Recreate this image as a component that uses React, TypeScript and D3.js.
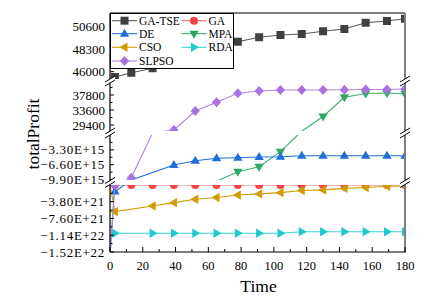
import React from "react";
import * as d3 from "d3";

// time steps where points were recorded
const time = [0, 3, 13, 26, 39, 52, 65, 78, 91, 104, 117, 130, 143, 156, 169, 180];

// totalProfit per algorithm (null = no point recorded)
const gaTse = [null, 45450, 45895, 46345, 47000, 47650, 48300, 49065, 49515, 49750, 49852, 50128, 50364, 51008, 51182, 51417];
const ga = [null, -2e19, -2e19, -2e19, -2e19, -2e19, -2e19, -2e19, -2e19, -2e19, -2e19, -2e19, -2e19, -2e19, -2e19, -2e19];
const de = [-1.0e16, -1.52e21, -1.0e16, null, -6.67e15, -5.71e15, -5.18e15, -5.04e15, -4.89e15, -4.82e15, -4.6e15, -4.6e15, -4.6e15, -4.6e15, -4.6e15, -4.6e15];
const mpa = [-1.6e22, -5e18, -5e18, -5e18, -5e18, -5e18, -5e18, -8.16e15, -7.04e15, -3.71e15, 26000, 31780, 37156, 38220, 38360, 38080];
const cso = [-2e19, -6.06e21, null, -4.76e21, -4.02e21, -3.24e21, -2.84e21, -2.27e21, -2.04e21, -1.75e21, -1.25e21, -1.13e21, -7.9e20, -5.7e20, -2.9e20, -2.3e20];
const rda = [null, -1.096e22, null, -1.096e22, -1.096e22, -1.096e22, -1.096e22, -1.096e22, -1.096e22, -1.096e22, -1.06e22, -1.06e22, -1.06e22, -1.06e22, -1.06e22, -1.06e22];
const slpso = [-1.6e22, -2e19, -9.51e15, 15000, 28000, 33320, 35756, 38276, 38920, 39200, 39200, 39200, 39284, 39340, 39340, 39480];

// broken y axis: four segments, top to bottom
const segDomains = [[45250, 52000], [27720, 41160], [-1.0e16, 0], [-1.52e22, -2e19]];
const segTicks = [
  [46000, 48300, 50600],
  [29400, 33600, 37800],
  [-9.9e15, -6.6e15, -3.3e15],
  [-1.52e22, -1.14e22, -7.6e21, -3.8e21],
];
const segTickLabels = [
  ["46000", "48300", "50600"],
  ["29400", "33600", "37800"],
  ["\u22129.90E+15", "\u22126.60E+15", "\u22123.30E+15"],
  ["\u22121.52E+22", "\u22121.14E+22", "\u22127.60E+21", "\u22123.80E+21"],
];
const xTicks = [0, 20, 40, 60, 80, 100, 120, 140, 160, 180];

const series = [
  { name: "GA-TSE", values: gaTse, color: "#404040", line: "#5a5a5a", shape: "square" },
  { name: "GA", values: ga, color: "#f24444", line: "#f26a6a", shape: "circle" },
  { name: "DE", values: de, color: "#1e6fdc", line: "#1e6fdc", shape: "up" },
  { name: "MPA", values: mpa, color: "#2fa866", line: "#3cb070", shape: "down" },
  { name: "CSO", values: cso, color: "#d09b00", line: "#d09b00", shape: "left" },
  { name: "RDA", values: rda, color: "#1ecbcb", line: "#3fd2d2", shape: "right" },
  { name: "SLPSO", values: slpso, color: "#a873e0", line: "#b083e4", shape: "diamond" },
];
// MPA under GA so the red line stays on top
const drawOrder = ["MPA", "GA-TSE", "GA", "DE", "CSO", "RDA", "SLPSO"];

const W = 437;
const H = 303;
const left = 110;
const right = 405;
const top = 13;
const bottom = 252;
const segPx = [[79, 13], [131, 83], [180, 135], [252, 185]];

const markerPath = (shape: string) => {
  switch (shape) {
    case "square": return "M-4,-4h8v8h-8Z";
    case "circle": return "M4,0A4,4 0 1,1 -4,0A4,4 0 1,1 4,0Z";
    case "up": return "M0,-5L4.7,3L-4.7,3Z";
    case "down": return "M0,5L4.7,-3L-4.7,-3Z";
    case "left": return "M-5,0L3,-4.7L3,4.7Z";
    case "right": return "M5,0L-3,-4.7L-3,4.7Z";
    default: return "M0,-5L4.6,0L0,5L-4.6,0Z";
  }
};

const App = () => {
  const x = d3.scaleLinear().domain([0, 180]).range([left, right]);
  const ys = segDomains.map((dom, i) => d3.scaleLinear().domain(dom).range(segPx[i]));
  const font = "'Liberation Serif', 'Times New Roman', serif";

  // piecewise mapping across the breaks
  const inPanel = (v: number) => segDomains.some((d) => v >= d[0] && v <= d[1]);
  const Y = (v: number) => {
    for (let i = 0; i < segDomains.length; i++) {
      const [lo, hi] = segDomains[i];
      if (v >= lo && v <= hi) return ys[i](v);
    }
    if (v > segDomains[0][1]) return Math.max(-50, ys[0](v));
    const last = segDomains.length - 1;
    if (v < segDomains[last][0]) return Math.min(H + 50, ys[last](v));
    for (let i = 0; i < last; i++) {
      const upLo = segDomains[i][0];
      const dnHi = segDomains[i + 1][1];
      if (v < upLo && v > dnHi) {
        const g = d3.scaleLinear().domain([upLo, dnHi]).range([segPx[i][0], segPx[i + 1][1]]);
        return g(v);
      }
    }
    return 0;
  };

  const line = d3
    .line<[number, number]>()
    .x((d) => x(d[0]))
    .y((d) => Y(d[1]));

  const ordered = drawOrder.map((n) => series.find((s) => s.name === n)!);

  const breaks = [81, 133, 182.5];
  const breakMark = (cx: number, cy: number, key: string) => (
    <g key={key}>
      <path
        d={`M${cx - 5},${cy + 1}L${cx + 5},${cy - 5}L${cx + 5},${cy - 1}L${cx - 5},${cy + 5}Z`}
        fill="#fff"
      />
      <line x1={cx - 5} y1={cy + 1} x2={cx + 5} y2={cy - 5} stroke="#000" strokeWidth={1} />
      <line x1={cx - 5} y1={cy + 5} x2={cx + 5} y2={cy - 1} stroke="#000" strokeWidth={1} />
    </g>
  );

  const legendRows = [["GA-TSE", "GA"], ["DE", "MPA"], ["CSO", "RDA"], ["SLPSO"]];
  const rowY = [20.7, 33.7, 47.3, 61];
  const colX = [112, 181.5];

  return (
    <svg
      width={W}
      height={H}
      style={{ position: "absolute", left: 0, top: 0, background: "#fff" }}
      fontFamily={font}
    >
      <defs>
        <clipPath id="panels">
          {segPx.map((r, i) => (
            <rect key={i} x={left} y={r[1]} width={right - left} height={r[0] - r[1]} />
          ))}
        </clipPath>
      </defs>

      <g clipPath="url(#panels)">
        {ordered.map((s) => {
          const pts: [number, number][] = [];
          s.values.forEach((v, k) => {
            if (v !== null) pts.push([time[k], v as number]);
          });
          return (
            <g key={s.name}>
              <path d={line(pts) || ""} fill="none" stroke={s.line} strokeWidth={1.1} />
              {pts
                .filter((p) => p[0] > 0 && inPanel(p[1]))
                .map((p, k) => (
                  <path
                    key={k}
                    d={markerPath(s.shape)}
                    transform={`translate(${x(p[0])},${Y(p[1])})`}
                    fill={s.color}
                  />
                ))}
            </g>
          );
        })}
      </g>

      {/* y ticks per segment */}
      {segDomains.map((dom, i) => {
        const y = ys[i];
        const step = segTicks[i][1] - segTicks[i][0];
        const minors: number[] = [];
        segTicks[i].forEach((t) => {
          [t - step / 2, t + step / 2].forEach((m) => {
            if (m > dom[0] && m < dom[1] && !minors.includes(m)) minors.push(m);
          });
        });
        const sci = i >= 2;
        return (
          <g key={i}>
            {segTicks[i].map((t, k) => (
              <g key={k}>
                <line x1={left} x2={left + 4} y1={y(t)} y2={y(t)} stroke="#000" />
                <text
                  x={105}
                  y={y(t)}
                  dy="0.35em"
                  textAnchor="end"
                  fontSize={13}
                  letterSpacing={sci ? 0.7 : 0}
                >
                  {segTickLabels[i][k]}
                </text>
              </g>
            ))}
            {minors.map((m, k) => (
              <line key={k} x1={left} x2={left + 2.5} y1={y(m)} y2={y(m)} stroke="#000" />
            ))}
          </g>
        );
      })}

      {/* frame */}
      <line x1={left} x2={right} y1={top} y2={top} stroke="#000" strokeWidth={1} />
      <line x1={left} x2={left} y1={top} y2={bottom} stroke="#000" strokeWidth={1.2} />
      <line x1={right} x2={right} y1={top} y2={bottom} stroke="#7f7f7f" strokeWidth={2} />
      <line x1={left} x2={right + 1} y1={bottom} y2={bottom} stroke="#000" strokeWidth={1.2} />

      {breaks.map((b, i) => breakMark(left, b, `l${i}`))}
      {breaks.map((b, i) => breakMark(right, b, `r${i}`))}

      {/* x axis */}
      {d3.range(0, 181, 10).map((t) => (
        <line
          key={t}
          x1={x(t)}
          x2={x(t)}
          y1={bottom}
          y2={bottom - (t % 20 === 0 ? 5 : 3)}
          stroke="#000"
        />
      ))}
      {xTicks.map((t) => (
        <text key={t} x={x(t)} y={269.5} textAnchor="middle" fontSize={12.5}>
          {t}
        </text>
      ))}
      <text x={258.5} y={292} textAnchor="middle" fontSize={17.5}>
        Time
      </text>
      <text transform="translate(39,134) rotate(-90)" textAnchor="middle" fontSize={17.5}>
        totalProfit
      </text>

      {/* legend */}
      <rect x={110.5} y={13.5} width={123} height={55} fill="#fff" stroke="#000" strokeWidth={1} />
      {legendRows.map((row, r) =>
        row.map((name, c) => {
          const s = series.find((d) => d.name === name)!;
          const x0 = colX[c];
          return (
            <g key={name}>
              <line x1={x0} x2={x0 + 25} y1={rowY[r]} y2={rowY[r]} stroke={s.line} strokeWidth={1.1} />
              <path d={markerPath(s.shape)} transform={`translate(${x0 + 12.5},${rowY[r]})`} fill={s.color} />
              <text x={x0 + 27} y={rowY[r]} dy="0.35em" fontSize={11.5}>
                {name}
              </text>
            </g>
          );
        })
      )}
    </svg>
  );
};

export default App;
